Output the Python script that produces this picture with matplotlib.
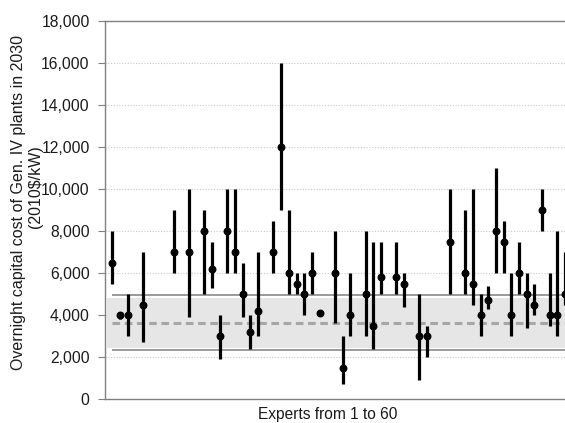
import numpy as np
import matplotlib
matplotlib.use('Agg')
import matplotlib.pyplot as plt

plt.rcParams['font.family'] = ['Liberation Sans', 'DejaVu Sans']

# experts that gave an estimate (1..60), central value and range in 2010$/kW
experts = [1, 2, 3, 5, 9, 11, 13, 14, 15, 16, 17, 18, 19, 20,
           22, 23, 24, 25, 26, 27, 28, 30, 31, 32, 34, 35, 36, 38, 39,
           41, 42, 45, 47, 48, 49, 50, 51, 52, 53, 54, 55, 56, 57, 58, 59, 60]
mid = [6500, 4000, 4000, 4500, 7000, 7000, 8000, 6200, 3000, 8000, 7000, 5000, 3200, 4200,
       7000, 12000, 6000, 5500, 5000, 6000, 4100, 6000, 1500, 4000, 5000, 3500, 5800, 5800, 5500,
       3000, 3000, 7500, 6000, 5500, 4000, 4700, 8000, 7500, 4000, 6000, 5000, 4500, 9000, 4000, 4000, 5000]
low = [5500, 3800, 3000, 2700, 6000, 3900, 5000, 5300, 1900, 6000, 6000, 3900, 2400, 3000,
       6000, 9000, 5000, 5000, 4000, 5000, 4100, 3600, 700, 3000, 3000, 2400, 5000, 5000, 4400,
       900, 2000, 5000, 5000, 4500, 3000, 4300, 6000, 6000, 3000, 5000, 3400, 4000, 8000, 3500, 3000, 4500]
high = [8000, 4150, 5000, 7000, 9000, 10000, 9000, 7500, 4000, 10000, 10000, 6500, 4000, 7000,
        8500, 16000, 9000, 6000, 6000, 7000, 4100, 8000, 3000, 6000, 8000, 7500, 7500, 7500, 6000,
        5000, 3500, 10000, 9000, 10000, 5000, 5400, 11000, 8500, 6000, 7500, 6000, 5500, 10000, 6000, 8000, 7000]

# summary lines
upper_line = 4970
lower_line = 2320
median_line = 3630
band_low, band_high = 2450, 4820

W, H = 565, 423
fig = plt.figure(figsize=(W / 100, H / 100), dpi=100)
ax = fig.add_axes([105 / W, (H - 399) / H, 464 / W, 378 / H])

mid = np.array(mid)
yerr = [mid - np.array(low), np.array(high) - mid]

ax.set_xlim(0.05, 60.5)
ax.set_ylim(0, 18000)

for y in range(2000, 18000, 2000):
    ax.axhline(y, color='#c8c8c8', lw=0.8, ls=(0, (1, 1.5)), zorder=0)

ax.axhspan(band_low, band_high, xmin=0.005, color='#e6e6e6', lw=0, zorder=1)
ax.hlines([upper_line, lower_line], 1, 60.5, color='#7f7f7f', lw=1.1, zorder=2)
ax.hlines(median_line, 1, 60.5, color='#a6a6a6', lw=2.2, linestyles=[(0, (2.5, 1.5))], zorder=2)

ax.errorbar(experts, mid, yerr=yerr, fmt='o', color='black', ms=4.7,
            elinewidth=2.3, capsize=0, zorder=3)

ax.set_yticks(range(0, 18001, 2000))
ax.set_yticklabels([f'{v:,}' for v in range(0, 18001, 2000)])
ax.set_xticks([])
ax.tick_params(axis='y', labelsize=11.3, length=5, width=0.8, color='#808080',
               labelcolor='#1a1a1a', pad=6)
for s in ['left', 'top', 'bottom']:
    ax.spines[s].set_color('#808080')
    ax.spines[s].set_linewidth(1.0)
ax.spines['right'].set_visible(False)

ax.set_xlabel('Experts from 1 to 60', fontsize=11.2, color='#1a1a1a')
ax.xaxis.set_label_coords((327.5 - 105) / 464, -0.021)

fig.text(19 / W, 1 - 203 / H, 'Overnight capital cost of Gen. IV plants in 2030',
         rotation=90, ha='center', va='center', fontsize=11.5, color='#1a1a1a')
fig.text(35 / W, 1 - 187 / H, '(2010$/kW)', rotation=90, ha='center', va='center',
         fontsize=11.5, color='#1a1a1a')

fig.savefig('out.png', dpi=100)
